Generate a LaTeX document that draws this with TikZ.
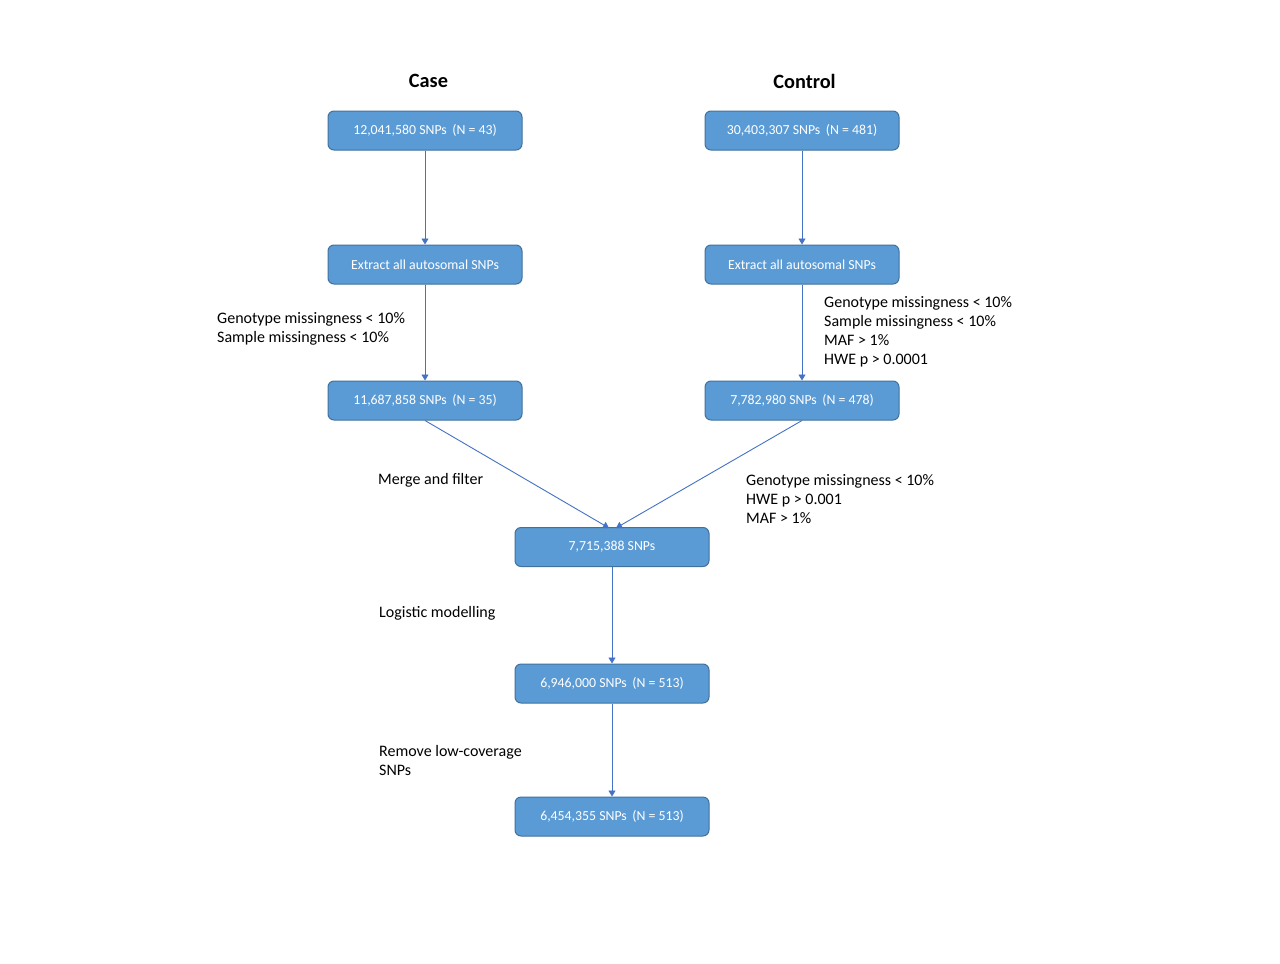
\documentclass[tikz,border=0pt]{standalone}
\usepackage{fontspec}
\setmainfont{Carlito}
\usetikzlibrary{arrows.meta}
\definecolor{boxfill}{HTML}{5B9BD5}
\definecolor{boxline}{HTML}{41719C}
\definecolor{arrowcol}{HTML}{4472C4}
\begin{document}
\begin{tikzpicture}[x=1pt,y=-1pt,
  stepbox/.style={draw=boxline, fill=boxfill, line width=1pt, rounded corners=6pt,
    minimum width=194pt, minimum height=39pt, inner sep=0pt, text=white,
    font=\fontsize{13.8}{16}\selectfont},
  title/.style={font=\fontsize{20.3}{24}\selectfont\bfseries},
  lbl/.style={anchor=west, align=left, inner sep=0pt, font=\fontsize{16}{19}\selectfont},
  conn/.style={draw=arrowcol, line width=0.9pt, -{Triangle[width=7pt,length=6pt]}}]
\useasboundingbox (0,0) rectangle (1280,964);
\fill[white] (0,0) rectangle (1280,964);

\node[title] (tcase) at (428.5,81) {Case};
\node[title] (tcontrol) at (804.5,81) {Control};

\node[stepbox] (a1) at (425,130.5) {12,041,580 SNPs\hspace{0.4em}(N = 43)};
\node[stepbox] (b1) at (802,130.5) {30,403,307 SNPs\hspace{0.4em}(N = 481)};
\node[stepbox] (a2) at (425,264.5) {Extract all autosomal SNPs};
\node[stepbox] (b2) at (802,264.5) {Extract all autosomal SNPs};
\node[stepbox] (a3) at (425,400.5) {11,687,858 SNPs\hspace{0.4em}(N = 35)};
\node[stepbox] (b3) at (802,400.5) {7,782,980 SNPs\hspace{0.4em}(N = 478)};
\node[stepbox] (m) at (612,547) {7,715,388 SNPs};
\node[stepbox] (c1) at (612,683.5) {6,946,000 SNPs\hspace{0.4em}(N = 513)};
\node[stepbox] (c2) at (612,816.5) {6,454,355 SNPs\hspace{0.4em}(N = 513)};

\coordinate (min) at (609,528);
\coordinate (mir) at (616,528);

\draw[conn] (a1) -- (a2);
\draw[conn] (b1) -- (b2);
\draw[conn] (a2) -- (a3);
\draw[conn] (b2) -- (b3);
\draw[conn] (a3.south) -- (min);
\draw[conn] (b3.south) -- (mir);
\draw[conn] (m) -- (c1);
\draw[conn] (c1) -- (c2);

\node[lbl] (l1) at (217,329) {Genotype missingness < 10\%\\Sample missingness < 10\%};
\node[lbl] (l2) at (824,331.5) {Genotype missingness < 10\%\\Sample missingness < 10\%\\MAF > 1\%\\HWE p > 0.0001};
\node[lbl] (l3) at (378,480.5) {Merge and filter};
\node[lbl] (l4) at (746,499.5) {Genotype missingness < 10\%\\HWE p > 0.001\\MAF > 1\%};
\node[lbl] (l5) at (379,613.5) {Logistic modelling};
\node[lbl] (l6) at (379,760) {Remove low-coverage\\SNPs};
\end{tikzpicture}
\end{document}
